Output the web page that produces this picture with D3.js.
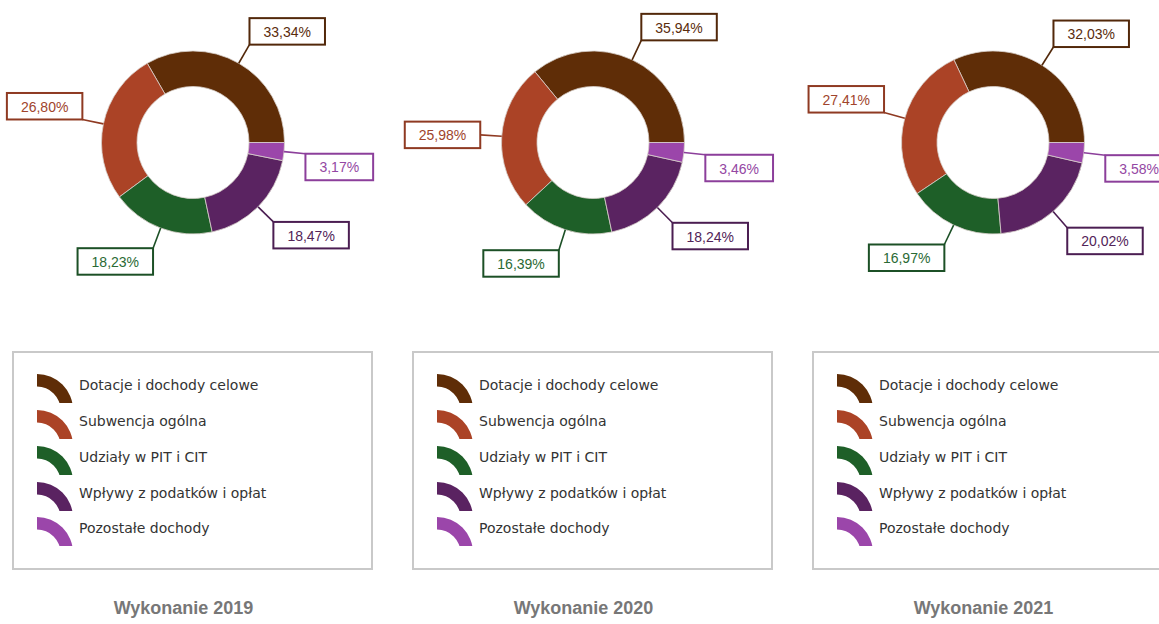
<!DOCTYPE html>
<html>
<head>
<meta charset="utf-8">
<script src="https://cdn.jsdelivr.net/npm/d3@7"></script>
<style>
  html, body { margin: 0; padding: 0; background: #fff; }
  svg { display: block; }
</style>
</head>
<body>
<svg id="chart" width="1159" height="624"></svg>
<script>
// ---- data ----
const categories = ["Dotacje i dochody celowe", "Subwencja ogólna", "Udziały w PIT i CIT", "Wpływy z podatków i opłat", "Pozostałe dochody"];
const years = ["Wykonanie 2019", "Wykonanie 2020", "Wykonanie 2021"];
const values2019 = [33.34, 26.80, 18.23, 18.47, 3.17];
const values2020 = [35.94, 25.98, 16.39, 18.24, 3.46];
const values2021 = [32.03, 27.41, 16.97, 20.02, 3.58];
const seriesValues = [values2019, values2020, values2021];

// ---- styles ----
const colors = ["#5f2d07", "#ab4326", "#1e5f28", "#5a2361", "#9b46aa"];
const strokeColors = ["#52280a", "#8f3a22", "#1c5026", "#4b1e52", "#8c3f9b"];
const textColors = ["#5a2c0c", "#a0442c", "#2a6a34", "#522458", "#9447a3"];

const svg = d3.select("#chart");
const panelW = 400;
const cy = 142.5;
const outerR = 91.5, innerR = 56, labelR = 113;

const color = d3.scaleOrdinal().domain(categories).range(colors);
const strokeC = d3.scaleOrdinal().domain(categories).range(strokeColors);
const textC = d3.scaleOrdinal().domain(categories).range(textColors);

const pie = d3.pie()
  .sort(null)
  .value(d => d.value)
  .startAngle(Math.PI / 2)
  .endAngle(Math.PI / 2 - 2 * Math.PI);

const arc = d3.arc().innerRadius(innerR).outerRadius(outerR);
const fmt = v => v.toFixed(2).replace(".", ",") + "%";

// clip for legend icons (in icon-local coordinates)
const defs = svg.append("defs");
defs.append("clipPath").attr("id", "iconClip")
  .append("rect").attr("x", 0).attr("y", -36).attr("width", 40).attr("height", 29);

seriesValues.forEach((vals, k) => {
  const ox = k * panelW;
  const cx = 193 + ox;
  const data = categories.map((c, i) => ({ cat: c, value: vals[i] }));
  const g = svg.append("g").attr("transform", `translate(${cx},${cy})`);
  const arcs = pie(data);

  g.selectAll("path.slice").data(arcs).join("path")
    .attr("class", "slice")
    .attr("d", arc)
    .attr("fill", d => color(d.data.cat))
    .attr("stroke", "#d8d0cc")
    .attr("stroke-width", 0.8);

  // labels
  arcs.forEach(d => {
    const mid = (d.startAngle + d.endAngle) / 2;
    const sx = Math.sin(mid), sy = -Math.cos(mid);
    const p0 = [sx * outerR, sy * outerR];
    const p1 = [sx * labelR, sy * labelR];
    g.append("line")
      .attr("x1", p0[0]).attr("y1", p0[1])
      .attr("x2", p1[0]).attr("y2", p1[1])
      .attr("stroke", strokeC(d.data.cat))
      .attr("stroke-width", 1.6);

    const t = g.append("text")
      .text(fmt(d.data.value))
      .attr("font-family", "'Liberation Sans', Arial, sans-serif")
      .attr("font-size", 14)
      .attr("fill", textC(d.data.cat))
      .attr("text-anchor", "middle")
      .attr("dominant-baseline", "central");
    const tw = t.node().getComputedTextLength();
    const bw = tw + 28, bh = 26.5;
    let bx = sx >= 0 ? p1[0] : p1[0] - bw;
    let by;
    if (Math.abs(sy) < 0.08) by = p1[1] - bh / 2;
    else by = sy < 0 ? p1[1] - bh : p1[1];
    g.append("rect")
      .attr("x", bx).attr("y", by)
      .attr("width", bw).attr("height", bh)
      .attr("fill", "#fff")
      .attr("stroke", strokeC(d.data.cat))
      .attr("stroke-width", 2);
    t.attr("x", bx + bw / 2).attr("y", by + bh / 2 + 0.5);
    t.raise();
  });

  // legend box
  const lg = svg.append("g").attr("transform", `translate(${13 + ox},352)`);
  lg.append("rect")
    .attr("x", 0).attr("y", 0)
    .attr("width", 359).attr("height", 217)
    .attr("fill", "#fff")
    .attr("stroke", "#c9c9c9")
    .attr("stroke-width", 2);

  const iconArc = d3.arc().innerRadius(23.5).outerRadius(36).startAngle(0).endAngle(Math.PI / 2);
  const rowY = [22, 58, 94, 130, 165];
  categories.forEach((c, i) => {
    const y0 = rowY[i];
    lg.append("path")
      .attr("d", iconArc)
      .attr("transform", `translate(24,${y0 + 36})`)
      .attr("clip-path", "url(#iconClip)")
      .attr("fill", color(c));
    lg.append("text")
      .attr("x", 66).attr("y", y0 + 16)
      .attr("font-family", "'DejaVu Sans', Verdana, sans-serif")
      .attr("font-size", 14)
      .attr("fill", "#333")
      .text(c);
  });

  // title
  svg.append("text")
    .attr("x", 183.5 + ox).attr("y", 614)
    .attr("text-anchor", "middle")
    .attr("font-family", "'Liberation Sans', Arial, sans-serif")
    .attr("font-weight", "bold")
    .attr("font-size", 18)
    .attr("fill", "#777")
    .text(years[k]);
});
</script>
</body>
</html>
